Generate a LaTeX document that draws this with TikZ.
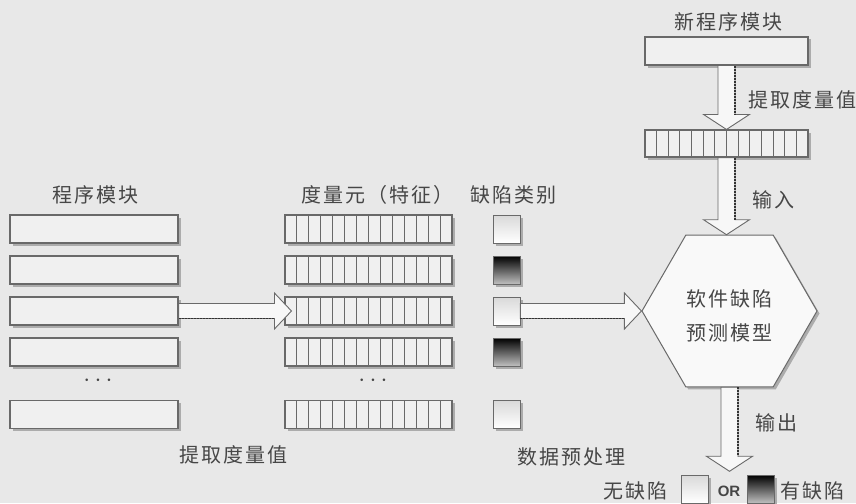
\documentclass[tikz,border=0pt]{standalone}
\usepackage{fontspec}
\newfontfamily\cjk[LetterSpace=10]{Noto Sans CJK SC}
\setsansfont{Liberation Sans}
\usetikzlibrary{calc,shapes.geometric,shadows}
\definecolor{bg}{RGB}{232,232,232}
\definecolor{ink}{RGB}{70,70,70}
\definecolor{edge}{RGB}{105,105,105}
\definecolor{boxfill}{RGB}{240,240,240}
\newcommand\hblock[2]{%
  \draw[blockarrow] let \p1=(#1), \p2=(#2) in
    (\x1,\y1+7.5pt) -- (\x2-17pt,\y1+7.5pt) -- (\x2-17pt,\y1+18pt) -- (\x2,\y1)
    -- (\x2-17pt,\y1-18pt) -- (\x2-17pt,\y1-7.5pt) -- (\x1,\y1-7.5pt) -- cycle;
  \draw[arrowshade] let \p1=(#1), \p2=(#2) in (\x1,\y1-7.5pt) -- (\x2-17pt,\y1-7.5pt);}
\newcommand\vblock[2]{%
  \draw[blockarrow] let \p1=(#1), \p2=(#2) in
    (\x1-8.5pt,\y1) -- (\x1-8.5pt,\y2+15pt) -- (\x1-23pt,\y2+15pt) -- (\x1,\y2)
    -- (\x1+23pt,\y2+15pt) -- (\x1+8.5pt,\y2+15pt) -- (\x1+8.5pt,\y1) -- cycle;
  \draw[arrowshade] let \p1=(#1), \p2=(#2) in (\x1+8.5pt,\y1) -- (\x1+8.5pt,\y2+15pt);}
\begin{document}
\begin{tikzpicture}[x=1pt,y=-1pt,
  lbl/.style={font=\cjk\fontsize{20}{24}\selectfont, text=ink, inner sep=0pt},
  shadowed/.style={drop shadow={shadow xshift=2.5pt, shadow yshift=-2.5pt, fill=gray!65, opacity=1}},
  modbox/.style={shadowed, draw=edge, line width=1.1pt, fill=boxfill, minimum width=168pt, minimum height=28pt, inner sep=0pt},
  featbox/.style={modbox, minimum width=167pt, path picture={
      \foreach \i in {1,...,13}{\draw[edge, line width=1pt]
        ($(path picture bounding box.north west)!\i/14!(path picture bounding box.north east)$) --
        ($(path picture bounding box.south west)!\i/14!(path picture bounding box.south east)$);}}},
  clsbox/.style={shadowed, draw=edge, line width=0.8pt, minimum width=27pt, minimum height=28pt, inner sep=0pt},
  lightbox/.style={clsbox, top color=gray!30, bottom color=white},
  darkbox/.style={clsbox, top color=black, bottom color=gray!50},
  blockarrow/.style={draw=edge, line width=0.9pt, fill=gray!6},
  arrowshade/.style={draw=gray!40!black, line width=1.4pt, dash pattern=on 2pt off 1pt},
  dotsnode/.style={text=ink, inner sep=0pt, font=\fontsize{24}{24}\selectfont},
]
\useasboundingbox (0,0) rectangle (856,503);
\fill[bg] (0,0) rectangle (856,503);

% headers
\node[lbl] (h1) at (95,195) {程序模块};
\node[lbl] (h2) at (377,195) {度量元（特征）};
\node[lbl] (h3) at (513,195) {缺陷类别};

% rows
\foreach \r/\yy/\c in {1/229/lightbox,2/270/darkbox,3/311/lightbox,4/352/darkbox,5/414.5/lightbox}{
  \node[modbox] (m\r) at (94,\yy) {};
  \node[featbox] (f\r) at (368.5,\yy) {};
  \node[\c] (c\r) at (506.5,\yy) {};
}
\node[dotsnode] (d1) at (98,381) {$\cdots$};
\node[dotsnode] (d2) at (373,381) {$\cdots$};

\node[lbl] (b1) at (233,455) {提取度量值};
\node[lbl] (b2) at (571,457) {数据预处理};

% right column
\node[lbl] (nt) at (728,22) {新程序模块};
\node[modbox, minimum width=163pt] (nm) at (726.5,51) {};
\node[featbox, minimum width=163pt, minimum height=27pt] (nf) at (726.5,143.5) {};
\node[shadowed, regular polygon, regular polygon sides=6, minimum size=175pt, inner sep=0pt,
      draw=edge, line width=1pt, fill=gray!5] (model) at (729.5,311) {};
\node[lbl, align=center, font=\cjk\fontsize{20}{34}\selectfont] (mt) at (729,316) {软件缺陷\\预测模型};

% arrows
\coordinate (tip1) at ($(f3.west)+(7,0)$);
\hblock{m3.east}{tip1}
\hblock{c3.east}{model.west}
\vblock{nm.south}{nf.north}
\vblock{nf.south}{model.north}
\coordinate (outtip) at ($(model.south)+(0,84)$);
\vblock{model.south}{outtip}

\node[lbl, anchor=west] (l1) at (748,100) {提取度量值};
\node[lbl, anchor=west] (l2) at (752,200) {输入};
\node[lbl, anchor=west] (l3) at (755,423) {输出};

% legend
\node[lbl, anchor=west] (n1) at (603,491) {无缺陷};
\node[lightbox] (lg1) at (695,489) {};
\node[text=ink, inner sep=0pt, font=\sffamily\bfseries\fontsize{15}{18}\selectfont] (or) at (729,491) {OR};
\node[darkbox] (lg2) at (761,489) {};
\node[lbl, anchor=west] (n2) at (780,491) {有缺陷};
\end{tikzpicture}
\end{document}
